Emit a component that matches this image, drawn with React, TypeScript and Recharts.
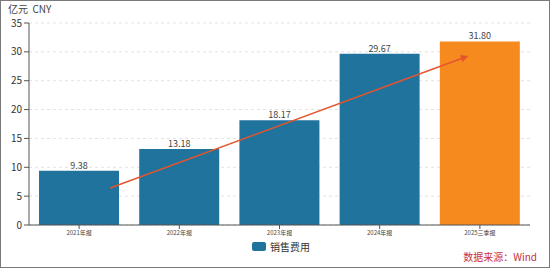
import React from "react";
import {
  BarChart,
  Bar,
  XAxis,
  YAxis,
  CartesianGrid,
  Cell,
  LabelList,
  ReferenceLine,
} from "recharts";

const periods = ["2021年报", "2022年报", "2023年报", "2024年报", "2025三季报"];
const salesExpense = [9.38, 13.18, 18.17, 29.67, 31.8];
const yTicks = [0, 5, 10, 15, 20, 25, 30, 35];
// trend arrow, in (category index, value) units
const arrowFrom = { x: 0.31, y: 6.4 };
const arrowTo = { x: 3.87, y: 29.2 };

const BLUE = "#20739c";
const ORANGE = "#f68a1e";

const data = periods.map((p, i) => ({ period: p, idx: i, value: salesExpense[i] }));

export default function App() {
  return (
    <div
      style={{
        position: "fixed",
        left: 0,
        top: 0,
        width: 550,
        height: 268,
        boxSizing: "border-box",
        border: "1px solid #7a7a7a",
        background: "#fff",
        fontFamily: "'Noto Sans CJK SC', 'Open Sans', sans-serif",
        overflow: "hidden",
      }}
    >
      <div style={{ position: "absolute", left: -1, top: -1 }}>
        <BarChart
          width={550}
          height={268}
          data={data}
          margin={{ top: 23, right: 20, left: 0, bottom: 25 }}
          barCategoryGap="10%"
        >
          <defs>
            <marker
              id="arrowHead"
              viewBox="0 0 10 10"
              refX="8"
              refY="5"
              markerWidth="5"
              markerHeight="5"
              orient="auto"
            >
              <path d="M0,0 L10,5 L0,10 z" fill="#e4552c" />
            </marker>
          </defs>
          <CartesianGrid
            vertical={false}
            strokeDasharray="3 3"
            stroke="#e2e2e2"
          />
          <XAxis
            dataKey="period"
            height={18}
            tick={{ fontSize: 6, fill: "#444" }}
            tickLine={{ stroke: "#555" }}
            tickSize={4}
            axisLine={{ stroke: "#555" }}
            interval={0}
          />
          <XAxis
            xAxisId="num"
            dataKey="idx"
            type="number"
            domain={[-0.5, periods.length - 0.5]}
            allowDataOverflow
            hide
          />
          <YAxis
            domain={[0, 35]}
            ticks={yTicks}
            width={29}
            tick={{ fontSize: 10, fill: "#333" }}
            tickLine={{ stroke: "#555" }}
            tickSize={5}
            axisLine={{ stroke: "#555" }}
          />
          <Bar dataKey="value" isAnimationActive={false}>
            {data.map((d, i) => (
              <Cell key={d.period} fill={i === data.length - 1 ? ORANGE : BLUE} />
            ))}
            <LabelList
              dataKey="value"
              position="top"
              offset={2}
              formatter={(v: number) => v.toFixed(2)}
              style={{ fontSize: 9, fill: "#444" }}
            />
          </Bar>
          <ReferenceLine
            xAxisId="num"
            segment={[arrowFrom, arrowTo]}
            stroke="#e4552c"
            strokeWidth={1.5}
            markerEnd="url(#arrowHead)"
            ifOverflow="visible"
          />
        </BarChart>
      </div>
      <div
        style={{
          position: "absolute",
          left: 251,
          top: 238,
          display: "flex",
          alignItems: "center",
          fontSize: 10,
          color: "#333",
        }}
      >
        <span
          style={{
            display: "inline-block",
            width: 14,
            height: 9,
            borderRadius: 2,
            background: BLUE,
            marginRight: 4,
          }}
        />
        销售费用
      </div>
      <div
        style={{
          position: "absolute",
          left: 7,
          top: 3,
          fontSize: 10,
          lineHeight: 1,
          color: "#444",
        }}
      >
        亿元&nbsp;&nbsp;CNY
      </div>
      <div
        style={{
          position: "absolute",
          right: 12,
          top: 250,
          fontSize: 10,
          lineHeight: 1.2,
          color: "#c8303a",
        }}
      >
        数据来源：Wind
      </div>
    </div>
  );
}
